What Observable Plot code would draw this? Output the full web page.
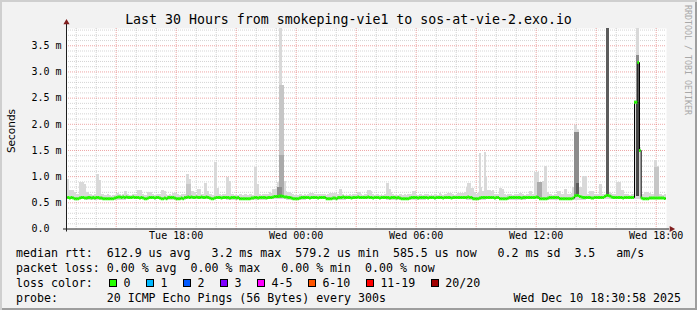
<!DOCTYPE html>
<html><head><meta charset="utf-8">
<script src="https://cdn.jsdelivr.net/npm/d3@7"></script>
<script src="https://cdn.jsdelivr.net/npm/@observablehq/plot@0.6"></script>
<style>
body{margin:0;background:#fff}
#chart{position:relative;width:697px;height:310px;background:#f2f2f2;box-shadow:inset 2px 2px 0 #cfcfcf, inset -2px -2px 0 #9e9e9e;font-family:"DejaVu Sans Mono",monospace;color:#000;overflow:hidden}
#title{position:absolute;left:0;top:12px;width:697px;text-align:center;font-size:13.25px;line-height:16px;white-space:pre}
#ylab{position:absolute;left:-19px;top:124px;width:60px;text-align:center;font-family:"DejaVu Sans",sans-serif;font-size:10.5px;line-height:14px;transform:rotate(-90deg)}
#wm{position:absolute;left:633px;top:55px;width:110px;text-align:center;font-size:8.3px;line-height:10px;color:#a8a8a8;transform:rotate(90deg);white-space:pre}
#plot{position:absolute;left:0;top:0}
.leg{position:absolute;left:16px;font-size:11.6px;line-height:15px;white-space:pre}
.box{position:absolute;top:3.5px;width:6px;height:6px;border:1px solid #000}
.lab{position:absolute;top:0}
</style></head>
<body>
<div id="chart">
  <div id="plot"></div>
  <div id="title"></div>
  <div id="ylab">Seconds</div>
  <div id="wm">RRDTOOL / TOBI OETIKER</div>
  <div class="leg" id="row1" style="top:245.5px"></div>
  <div class="leg" id="row2" style="top:260.5px"></div>
  <div class="leg" id="row3" style="top:275.5px;width:670px;height:15px"></div>
  <div class="leg" id="row4" style="top:290.5px;width:665px"></div>
</div>
<script>
// ---- data ----
const titleText = "Last 30 Hours from smokeping-vie1 to sos-at-vie-2.exo.io";
// median RTT in ms, one value per 5-minute step from Tue 12:30 (12 per hour)
const median = [
0.60,0.60,0.59,0.60,0.59,0.58,0.58,0.58,0.59,0.60,0.60,0.59,
0.59,0.60,0.60,0.59,0.60,0.59,0.60,0.60,0.59,0.59,0.58,0.58,
0.58,0.58,0.58,0.58,0.58,0.59,0.60,0.61,0.61,0.60,0.61,0.60,
0.61,0.60,0.60,0.60,0.61,0.60,0.60,0.60,0.59,0.60,0.59,0.58,
0.58,0.59,0.60,0.60,0.60,0.59,0.60,0.60,0.59,0.58,0.58,0.59,
0.58,0.60,0.60,0.60,0.60,0.59,0.58,0.58,0.58,0.59,0.58,0.60,
0.60,0.61,0.60,0.61,0.60,0.60,0.61,0.60,0.60,0.61,0.60,0.60,
0.61,0.60,0.59,0.58,0.58,0.59,0.60,0.60,0.60,0.59,0.60,0.60,
0.60,0.60,0.59,0.60,0.60,0.60,0.59,0.60,0.58,0.58,0.58,0.58,
0.58,0.58,0.58,0.59,0.59,0.60,0.60,0.59,0.60,0.60,0.60,0.60,
0.59,0.60,0.60,0.60,0.61,0.62,0.62,0.62,0.63,0.63,0.62,0.61,
0.61,0.60,0.60,0.59,0.58,0.58,0.58,0.58,0.59,0.60,0.60,0.60,
0.60,0.60,0.59,0.60,0.60,0.60,0.60,0.59,0.60,0.60,0.60,0.60,
0.58,0.58,0.58,0.58,0.59,0.59,0.58,0.60,0.60,0.60,0.61,0.60,
0.60,0.60,0.60,0.59,0.60,0.60,0.60,0.61,0.60,0.60,0.60,0.60,
0.60,0.61,0.60,0.60,0.59,0.60,0.60,0.60,0.59,0.60,0.60,0.60,
0.60,0.60,0.59,0.60,0.60,0.60,0.59,0.60,0.59,0.58,0.58,0.58,
0.58,0.58,0.59,0.60,0.60,0.60,0.60,0.59,0.60,0.60,0.60,0.60,
0.60,0.59,0.60,0.60,0.60,0.59,0.60,0.60,0.60,0.60,0.59,0.60,
0.60,0.60,0.60,0.59,0.60,0.60,0.60,0.60,0.60,0.60,0.60,0.60,
0.60,0.61,0.60,0.60,0.58,0.58,0.58,0.58,0.59,0.60,0.60,0.60,
0.60,0.60,0.60,0.60,0.60,0.59,0.60,0.60,0.58,0.58,0.58,0.58,
0.58,0.59,0.60,0.60,0.60,0.60,0.60,0.60,0.60,0.59,0.60,0.60,
0.60,0.60,0.60,0.60,0.60,0.60,0.61,0.60,0.58,0.58,0.58,0.58,
0.58,0.59,0.60,0.60,0.60,0.60,0.60,0.60,0.58,0.58,0.58,0.58,
0.58,0.58,0.58,0.58,0.59,0.63,0.64,0.64,0.62,0.61,0.60,0.60,
0.60,0.60,0.60,0.59,0.59,0.60,0.60,0.60,0.60,0.60,0.60,0.62,
0.64,0.64,0.63,0.61,0.60,0.60,0.60,0.60,0.60,0.60,0.59,0.60,
0.60,0.60,0.60,0.60,0.60,2.42,2.42,3.18,1.50,0.59,0.58,0.58,
0.58,0.58,0.59,0.59,0.59,0.59,0.59,0.59,0.59,0.59,0.59,0.585];
// highest ping of each 5-minute step (top of the smoke), ms
const smokeMax = [
0.94,0.94,0.73,0.73,0.73,0.70,0.66,0.66,0.89,0.89,0.89,0.85,
0.70,0.70,0.66,0.65,0.64,0.65,1.04,1.04,0.92,0.66,0.65,0.64,
0.64,0.65,0.64,0.63,0.64,0.64,0.67,0.67,0.65,0.64,0.65,0.72,
0.72,0.65,0.64,0.64,0.65,0.66,0.65,0.73,0.73,0.73,0.65,0.64,
0.64,0.70,0.70,0.70,0.65,0.64,0.64,0.65,0.66,0.73,0.73,0.72,
0.65,0.64,0.65,0.64,0.68,0.68,0.68,0.65,0.64,0.66,0.65,0.66,
1.04,1.04,0.95,0.72,0.72,0.70,0.66,0.76,0.76,0.65,0.66,0.87,
0.87,0.72,0.66,0.65,0.64,1.27,1.27,0.78,0.65,0.64,0.65,0.66,
0.98,0.98,0.90,0.66,0.65,0.64,0.65,0.64,0.66,0.65,0.64,0.65,
0.65,0.64,0.65,0.66,0.64,1.18,1.20,0.85,0.65,0.64,0.65,0.66,
0.66,0.65,0.70,0.68,0.76,0.76,0.76,0.88,3.83,3.83,2.74,0.90,
0.72,0.70,0.70,0.68,0.65,0.64,0.65,0.64,0.65,0.66,0.64,0.65,
0.64,0.65,0.67,0.67,0.67,0.66,0.64,0.65,0.66,0.66,0.66,0.65,
0.64,0.65,0.68,0.68,0.68,0.67,0.68,0.65,0.75,0.75,0.65,0.64,
0.65,0.64,0.65,0.64,0.65,0.66,0.65,0.70,0.70,0.65,0.64,0.65,
0.65,0.73,0.73,0.72,0.65,0.64,0.65,0.66,0.64,0.65,0.64,0.66,
0.87,0.87,0.75,0.70,0.65,0.64,0.65,0.64,0.66,0.65,0.64,0.65,
0.64,0.65,0.66,0.65,0.71,0.71,0.65,0.64,0.66,0.65,0.64,0.65,
0.65,0.66,0.64,0.65,0.64,0.66,0.65,0.64,0.67,0.65,0.64,0.65,
0.65,0.68,0.68,0.67,0.65,0.64,0.66,0.68,0.68,0.67,0.68,0.70,
0.80,0.86,0.86,0.77,0.77,0.70,0.66,0.68,1.45,0.80,0.72,1.46,
1.00,0.73,0.73,0.72,0.73,0.66,0.65,0.66,0.78,0.78,0.76,0.65,
0.64,0.65,0.66,0.65,0.64,0.65,0.66,0.65,0.67,0.67,0.65,0.64,
0.65,0.66,0.72,0.72,0.66,1.08,1.08,1.08,0.88,0.88,0.90,1.19,
1.19,0.70,0.66,0.65,0.64,0.65,0.66,0.72,0.72,0.66,0.65,0.75,
0.75,0.66,0.65,0.68,0.80,1.98,1.98,1.90,0.80,0.80,1.00,1.00,
1.00,0.66,0.72,0.72,0.72,0.65,0.66,0.65,0.85,0.85,0.66,0.65,
3.83,3.83,0.70,0.68,0.66,0.65,0.89,0.89,0.89,0.73,0.73,0.66,
0.66,0.65,0.64,0.65,0.66,2.45,3.83,3.83,1.55,0.66,0.65,0.70,
0.70,0.70,0.68,0.66,0.65,1.31,1.31,1.20,0.66,0.65,0.64,0.65];
// lowest ping, one value per hour, ms
const smokeMinHourly = [0.56,0.55,0.55,0.56,0.56,0.55,0.56,0.56,0.55,0.55,0.56,0.55,0.56,0.55,0.56,
                        0.56,0.55,0.55,0.56,0.56,0.55,0.56,0.55,0.56,0.55,0.55,0.56,0.56,0.56,0.56];
// denser (darker) parts of the smoke: [from, to, low ms, high ms, density 1..5]
const innerSmoke = [
  ["2025-12-09T18:30","2025-12-09T18:45",0.60,0.85,1],
  ["2025-12-09T23:10","2025-12-09T23:25",0.62,2.74,1],
  ["2025-12-09T23:10","2025-12-09T23:25",0.62,1.40,2],
  ["2025-12-09T23:05","2025-12-09T23:20",0.58,0.80,3],
  ["2025-12-10T12:05","2025-12-10T12:20",0.60,0.89,2],
  ["2025-12-10T13:55","2025-12-10T14:10",0.62,1.85,3],
  ["2025-12-10T14:00","2025-12-10T14:10",0.62,0.87,4],
  ["2025-12-10T15:30","2025-12-10T15:40",0.62,3.83,4],
  ["2025-12-10T17:00","2025-12-10T17:10",0.62,3.31,3],
  ["2025-12-10T17:00","2025-12-10T17:10",0.62,2.42,5],
  ["2025-12-10T17:55","2025-12-10T18:10",0.62,1.18,1]
];
const yTickValues = [0, 0.5, 1.0, 1.5, 2.0, 2.5, 3.0, 3.5];
const yTickLabels = ["0.0", "0.5 m", "1.0 m", "1.5 m", "2.0 m", "2.5 m", "3.0 m", "3.5 m"];
const xTickTimes = ["2025-12-09T18:00Z","2025-12-10T00:00Z","2025-12-10T06:00Z","2025-12-10T12:00Z","2025-12-10T18:00Z"];
const xTickLabels = ["Tue 18:00","Wed 00:00","Wed 06:00","Wed 12:00","Wed 18:00"];
const rttStats = "median rtt:  612.9 us avg   3.2 ms max  579.2 us min  585.5 us now   0.2 ms sd  3.5   am/s";
const lossStats = "packet loss: 0.00 % avg  0.00 % max   0.00 % min  0.00 % now";
const lossLabels = ["0","1","2","3","4-5","6-10","11-19","20/20"];
const lossColors = ["#26ff00","#00b8ff","#0059ff","#7e00ff","#ff00ff","#ff5500","#ff0000","#a00000"];
const probeText = "probe:       20 ICMP Echo Pings (56 Bytes) every 300s";
const stampText = "Wed Dec 10 18:30:58 2025";

// ---- build ----
document.getElementById("title").textContent = titleText;
const start = new Date(Date.UTC(2025,11,9,12,30,58));
const end = new Date(Date.UTC(2025,11,10,18,30,58));
const first = Date.UTC(2025,11,9,12,30,0);
const STEP = 300000;
const samples = median.map((m,i)=>({t:new Date(first+i*STEP), t2:new Date(first+(i+1)*STEP), median:m, max:smokeMax[i], min:smokeMinHourly[Math.floor(i/12)]}));
const medianPath = samples.map(d=>({t:d.t, v:d.median})).concat([{t:samples[samples.length-1].t2, v:samples[samples.length-1].median}]);
const shade = {1:"#c6c6c6",2:"#aaaaaa",3:"#8c8c8c",4:"#5c5c5c",5:"#474747"};
const inner = innerSmoke.map(([a,b,lo,hi,l])=>({t1:new Date(a+"Z"), t2:new Date(b+"Z"), lo, hi, c:shade[l]}));
const hours = d3.utcHour.range(start, end);
const majorHours = hours.filter(d=>d.getUTCHours()%3===0);
const minorHours = hours.filter(d=>d.getUTCHours()%3!==0);
const yMinor = d3.range(1, 39).filter(k=>k%5!==0).map(k=>k/10);
const yMajor = yTickValues.filter(v=>v>0);
const yTop = 3.83;

const plot = Plot.plot({
  width:697, height:245,
  marginTop:28, marginBottom:16.5, marginLeft:66, marginRight:31,
  style:{background:"transparent", fontFamily:"'DejaVu Sans Mono', monospace", fontSize:"10px", overflow:"visible"},
  x:{type:"utc", domain:[start,end], axis:null},
  y:{domain:[0,yTop], axis:null},
  marks:[
    Plot.frame({fill:"#fff", stroke:"none"}),
    Plot.gridX(minorHours, {stroke:"#8f8f8f", strokeOpacity:0.38, strokeDasharray:"1,1"}),
    Plot.gridY(yMinor, {stroke:"#8f8f8f", strokeOpacity:0.38, strokeDasharray:"1,1"}),
    Plot.gridX(majorHours, {stroke:"#de4f4f", strokeOpacity:0.5, strokeDasharray:"1,1"}),
    Plot.gridY(yMajor, {stroke:"#de4f4f", strokeOpacity:0.5, strokeDasharray:"1,1"}),
    Plot.rect(samples, {x1:"t", x2:"t2", y1:"min", y2:"max", fill:"#d9d9d9", shapeRendering:"crispEdges", clip:true}),
    Plot.rect(inner, {x1:"t1", x2:"t2", y1:"lo", y2:"hi", fill:"c", shapeRendering:"crispEdges", clip:true}),
    Plot.line(medianPath, {x:"t", y:"v", curve:"step-after", stroke:"#000", strokeWidth:1, clip:true}),
    Plot.ruleY(samples, {y:"median", x1:"t", x2:"t2", stroke:"#26ff00", strokeWidth:3, clip:true}),
    Plot.ruleY([0], {stroke:"#1f1f1f", insetLeft:-3, insetRight:-3}),
    Plot.ruleX([start], {stroke:"#1f1f1f", insetTop:-4, insetBottom:-3}),
    Plot.dot([{x:end, y:0}], {x:"x", y:"y", symbol:"triangle", rotate:90, r:2.3, fill:"#801f1f", stroke:"none", dx:5}),
    Plot.dot([{x:start, y:yTop}], {x:"x", y:"y", symbol:"triangle", r:2.3, fill:"#801f1f", stroke:"none", dy:-6}),
    Plot.text(yTickValues, {y:d=>d, text:(d,i)=>yTickLabels[i], frameAnchor:"left", textAnchor:"start", dx:-35, fill:"#000", fontSize:10}),
    Plot.text(xTickTimes.map(s=>new Date(s)), {x:d=>d, text:(d,i)=>xTickLabels[i], frameAnchor:"bottom", dy:9.5, fill:"#000", fontSize:10})
  ]
});
document.getElementById("plot").appendChild(plot);

// ---- legend ----
document.getElementById("row1").textContent = rttStats;
document.getElementById("row2").textContent = lossStats;
const cw = 6.98;
const row3 = document.getElementById("row3");
let html = '<span class="lab" style="left:0">loss color:</span>';
let col = 13.3;
lossLabels.forEach((lab,i)=>{
  html += `<span class="box" style="left:${(col*cw).toFixed(1)}px;background:${lossColors[i]}"></span>`;
  html += `<span class="lab" style="left:${((col+2.1)*cw).toFixed(1)}px">${lab}</span>`;
  col += 2.1 + lab.length + 2.2;
});
row3.innerHTML = html;
const row4 = document.getElementById("row4");
row4.innerHTML = `<span>${probeText}</span><span style="position:absolute;right:0;top:0">${stampText}</span>`;
</script>
</body></html>
